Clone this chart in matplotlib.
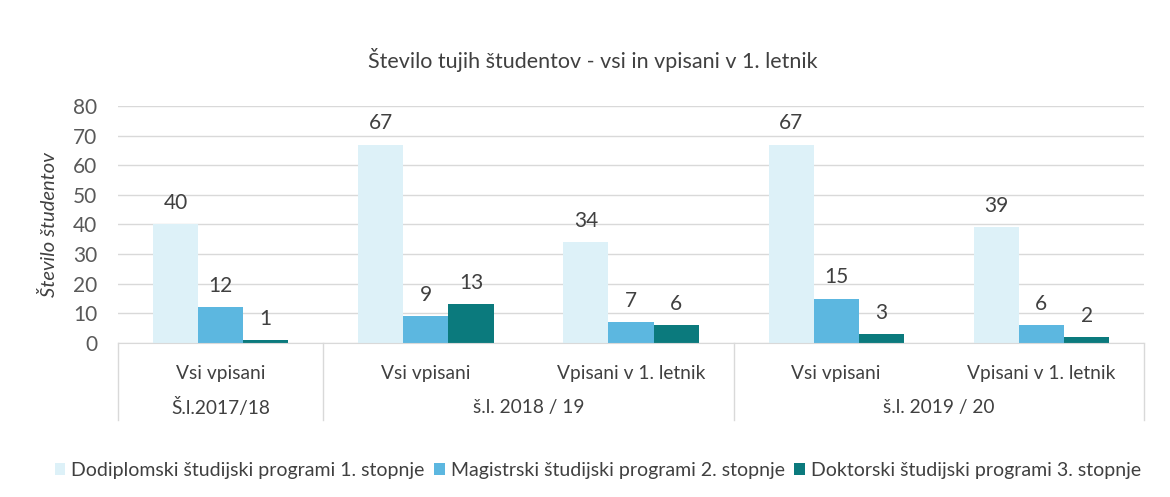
import matplotlib.pyplot as plt
import numpy as np

# Data
categories = ["Vsi vpisani", "Vsi vpisani", "Vpisani v 1. letnik", "Vsi vpisani", "Vpisani v 1. letnik"]
years = ["Š.l.2017/18", "š.l. 2018 / 19", "š.l. 2019 / 20"]
year_spans = [(0, 0), (1, 2), (3, 4)]
series_names = ["Dodiplomski študijski programi 1. stopnje",
                "Magistrski študijski programi 2. stopnje",
                "Doktorski študijski programi 3. stopnje"]
dodiplomski = [40, 67, 34, 67, 39]
magistrski = [12, 9, 7, 15, 6]
doktorski = [1, 13, 6, 3, 2]

# Colors
LIGHT = "#DDF1F8"
MID = "#5CB7E0"
DARK = "#0B7A7D"
TEXT = "#404040"
GRID = "#D9D9D9"

plt.rcParams["font.family"] = ["Lato", "DejaVu Sans"]

fig = plt.figure(figsize=(11.7, 4.97), dpi=100)
ax = fig.add_axes([0.1009, 0.3099, 0.8769, 0.4768])

x = np.arange(len(categories))
w = 0.22
values = [dodiplomski, magistrski, doktorski]
colors = [LIGHT, MID, DARK]
for i, (vals, col, name) in enumerate(zip(values, colors, series_names)):
    bars = ax.bar(x + (i - 1) * w, vals, w, color=col, label=name, zorder=2)
    ax.bar_label(bars, padding=8, fontsize=15, color=TEXT)

ax.set_ylim(0, 80)
ax.set_xlim(-0.5, len(categories) - 0.5)
ax.set_yticks(range(0, 81, 10))
ax.tick_params(axis="y", length=0, labelsize=15, labelcolor="#595959", pad=15)
ax.set_xticks([])
ax.grid(axis="y", color=GRID, linewidth=1, zorder=0)
for s in ["top", "right", "left"]:
    ax.spines[s].set_visible(False)
ax.spines["bottom"].set_color(GRID)

ax.set_ylabel("Število študentov", fontsize=14.5, style="italic", color=TEXT)
ax.yaxis.set_label_coords(-0.059, 0.5)
fig.text(0.507, 0.879, "Število tujih študentov - vsi in vpisani v 1. letnik",
         fontsize=15.5, color=TEXT, ha="center", va="center")

# Category table under the axis
trans = ax.get_xaxis_transform()
for xi, lab in zip(x, categories):
    ax.text(xi, -0.127, lab, transform=trans, ha="center", va="center",
            fontsize=13.8, color=TEXT)
for (a, b), lab in zip(year_spans, years):
    ax.text((a + b) / 2, -0.274, lab, transform=trans, ha="center", va="center",
            fontsize=13.8, color=TEXT)
for xb in [-0.5, 0.5, 2.5, 4.5]:
    ax.plot([xb, xb], [0, -0.325], transform=trans, color=GRID, linewidth=1,
            clip_on=False)

fig.legend(loc="center", bbox_to_anchor=(0.511, 0.054), ncol=3, frameon=False,
           fontsize=14, handlelength=0.55, handleheight=0.55, handletextpad=0.3,
           columnspacing=0.5, labelcolor=TEXT)

fig.savefig("out.png", dpi=100)
